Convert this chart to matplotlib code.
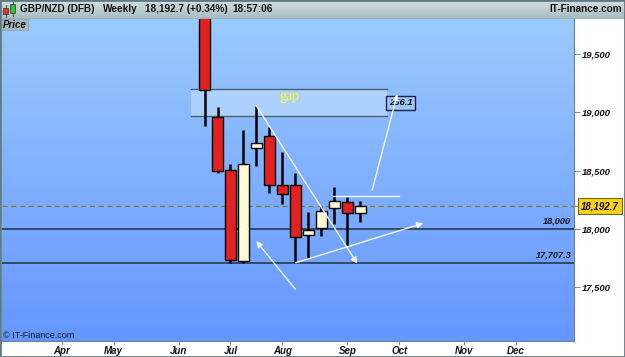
import matplotlib
matplotlib.use("Agg")
import matplotlib.pyplot as plt
import numpy as np
from matplotlib.colors import LinearSegmentedColormap
from matplotlib.patches import Rectangle

# weekly candles (week index, 0 = first week of June)
weeks = [2, 3, 4, 5, 6, 7, 8, 9, 10, 11, 12, 13, 14]
opens = [19950, 18962, 18505, 17724, 18691, 18797, 18373, 18373, 17947, 18010, 18175, 18228, 18135]
highs = [20000, 19048, 18556, 18848, 19054, 18871, 18662, 18476, 18147, 18190, 18361, 18276, 18239]
lows = [18885, 18482, 17707, 17707, 18542, 18310, 18212, 17707.3, 17747, 17938, 18041, 17852, 18061]
closes = [19191, 18499, 17733, 18554, 18739, 18373, 18299, 17927, 17990, 18153, 18241, 18133, 18192.7]

month_weeks = [-9, -5, 0, 4, 8, 13, 17, 22, 26]
month_labels = ["Apr", "May", "Jun", "Jul", "Aug", "Sep", "Oct", "Nov", "Dec"]
price_ticks = [17500, 18000, 18500, 19000, 19500]

last_price = 18192.7
levels = [18000, 17707.3]
level_labels = ["18,000", "17,707.3"]

gap_weeks = (0.92, 16.08)
gap_prices = (18968, 19196)
gap_box_label = "256.1"
gap_box_pos = (17.1, 19082)

# hand-drawn arrows: ((week, price) start, (week, price) end)
arrows = [
    ((6, 19054), (13.77, 17701)),
    ((9, 17480), (5.98, 17895)),
    ((9, 17707.3), (18.85, 18047)),
    ((14.92, 18333), (16.85, 19157)),
]
flat_line = ((11.9, 17.0), 18283)

xlim = (-13.6, 30.46)
ylim = (17039, 19801)

W, H = 625, 357
fig = plt.figure(figsize=(W / 100, H / 100), dpi=100)
fig.patch.set_facecolor("white")

bold_it = dict(family="Liberation Sans", weight="bold", style="italic")

# title bar
tb = fig.add_axes([0, 1 - 19 / H, 1, 19 / H])
tb.imshow(np.linspace(0, 1, 50).reshape(-1, 1), aspect="auto", extent=[0, 1, 0, 1],
          cmap=LinearSegmentedColormap.from_list("tb", ["#d3dfe1", "#a7bcc1"]), origin="upper")
tb.set_xlim(0, 1)
tb.set_ylim(0, 1)
tb.axis("off")
tb.axhline(0.02, color="#6f858c", lw=1)
title_parts = [(20, "GBP/NZD (DFB)"), (103, "Weekly"), (145, "18,192.7 (+0.34%)"), (232, "18:57:06")]
for px, s in title_parts:
    tb.text(px / W, 0.5, s, fontsize=7.2, family="Liberation Sans", weight="bold",
            va="center", ha="left", color="#111111")
tb.text(622 / W, 0.5, "IT-Finance.com", fontsize=7.2, family="Liberation Sans", weight="bold",
        va="center", ha="right", color="#111111")
# small icon
tb.add_patch(Rectangle((3 / W, 0.25), 5 / W, 0.35, facecolor="#e03030", edgecolor="#333333", lw=0.5))
tb.plot([5.5 / W, 5.5 / W], [0.1, 0.75], color="#333333", lw=0.6, zorder=0)
tb.add_patch(Rectangle((10 / W, 0.3), 5 / W, 0.5, facecolor="#30c030", edgecolor="#333333", lw=0.5))
tb.plot([12.5 / W, 12.5 / W], [0.15, 0.95], color="#333333", lw=0.6, zorder=0)

# main price panel
ax = fig.add_axes([2 / W, 16.3 / H, 572 / W, (H - 19 - 16.3) / H])
ax.set_xlim(*xlim)
ax.set_ylim(*ylim)
bg = LinearSegmentedColormap.from_list("bg", ["#9bcafd", "#6496ff"])
ax.imshow(np.linspace(0, 1, 100).reshape(-1, 1), aspect="auto", cmap=bg,
          extent=[xlim[0], xlim[1], ylim[0], ylim[1]], origin="upper", zorder=0)

# gap zone
ax.add_patch(Rectangle((gap_weeks[0], gap_prices[0]), gap_weeks[1] - gap_weeks[0],
                       gap_prices[1] - gap_prices[0], facecolor="#b9d9ff", alpha=0.75,
                       edgecolor="none", zorder=1))
for p in gap_prices:
    ax.plot(gap_weeks, [p, p], color="#4f5f70", lw=1, zorder=1.5)
ax.text(sum(gap_weeks) / 2, 19135, "gap", fontsize=10, family="Liberation Serif",
        color="#ffff20", ha="center", va="center", zorder=2)
ax.text(gap_box_pos[0], gap_box_pos[1], gap_box_label, fontsize=6.8, ha="center", va="center",
        color="#111111", zorder=4, **bold_it,
        bbox=dict(boxstyle="square,pad=0.25", facecolor="#9cc8ff", edgecolor="#222244", lw=1))

# level lines
for lv, lab in zip(levels, level_labels):
    ax.axhline(lv, color="#2b3850", lw=1.2, zorder=2)
    ax.text(xlim[1] - 0.2, lv + 25, lab, fontsize=6.6, ha="right", va="bottom",
            color="#111122", zorder=3, **bold_it)
ax.axhline(last_price, color="#7d7a22", lw=0.9, ls=(0, (4, 3)), zorder=2)

# candles
body_w = 0.8
for w, o, h, l, c in zip(weeks, opens, highs, lows, closes):
    ax.plot([w, w], [l, h], color="black", lw=1.8, zorder=3, solid_capstyle="butt")
    col = "#e42020" if c < o else "#fffad6"
    ax.add_patch(Rectangle((w - body_w / 2, min(o, c)), body_w, abs(c - o),
                           facecolor=col, edgecolor="black", lw=1, zorder=4))

# hand-drawn arrows
for (x0, y0), (x1, y1) in arrows:
    ax.annotate("", xy=(x1, y1), xytext=(x0, y0), zorder=5,
                arrowprops=dict(arrowstyle="-|>", color="#f4f6ff", lw=1, mutation_scale=9,
                                shrinkA=0, shrinkB=0))
ax.plot(flat_line[0], [flat_line[1]] * 2, color="#f4f6ff", lw=1, zorder=5)

# axes styling
ax.yaxis.tick_right()
ax.set_yticks(price_ticks)
ax.set_yticklabels([f"{v:,}" for v in price_ticks])
ax.set_xticks(month_weeks)
ax.set_xticklabels(month_labels)
ax.tick_params(axis="y", direction="out", length=4, width=0.8, color="#8090a0", pad=2, labelsize=6.8)
ax.tick_params(axis="x", direction="out", length=3, width=0.8, color="#8090a0", pad=1, labelsize=7)
for lab in ax.get_xticklabels() + ax.get_yticklabels():
    lab.set_fontfamily("Liberation Sans")
    lab.set_fontweight("bold")
    lab.set_fontstyle("italic")
    lab.set_color("#111111")
for s in ["top", "left"]:
    ax.spines[s].set_visible(False)
ax.spines["right"].set_color("#6a8290")
ax.spines["bottom"].set_color("#6a8290")
ax.spines["bottom"].set_linewidth(0.8)

# last price tag on right axis
ax.annotate(f"{last_price:,.1f}", xy=(1, last_price), xycoords=("axes fraction", "data"),
            xytext=(5, 0), textcoords="offset points", fontsize=7, va="center", ha="left",
            color="#111111", **bold_it, annotation_clip=False,
            bbox=dict(boxstyle="square,pad=0.3", facecolor="#ffd21a", edgecolor="#6a6a20", lw=0.8),
            arrowprops=dict(arrowstyle="-", color="#8090a0", lw=0.8, shrinkA=0, shrinkB=0))

# "Price" label and watermark
fig.patches.append(Rectangle((1 / W, 1 - 30 / H), 27 / W, 11 / H, transform=fig.transFigure,
                             facecolor="#a8b8bd", edgecolor="#8a9ca2", lw=0.5, zorder=10))
fig.text(3 / W, 1 - 24.5 / H, "Price", fontsize=7, va="center", ha="left", zorder=11,
         color="#111111", **bold_it)
fig.text(3 / W, 1 - 335 / H, "\u00a9 IT-Finance.com", fontsize=6.5, family="Liberation Sans",
         va="center", ha="left", color="#1a1a2a", zorder=11)

# outer frame
fig.patches.append(Rectangle((0, 0), 1, 1, transform=fig.transFigure, fill=False,
                             edgecolor="#5f7a85", lw=2, zorder=20))

fig.savefig("out.png", dpi=100)
